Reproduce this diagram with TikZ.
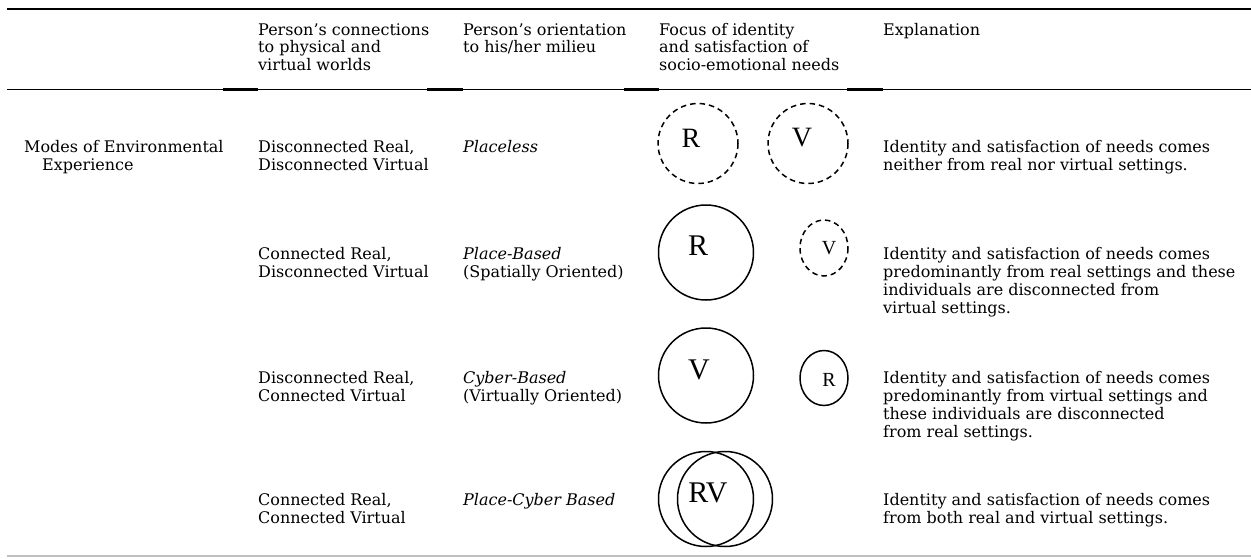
\documentclass[tikz,border=0pt]{standalone}
\usepackage{fontspec}
\setmainfont{DejaVu Serif}
\newfontfamily\letterfont{Liberation Serif}
\newcommand{\bodyfont}{\fontsize{16}{18}\selectfont}
\begin{document}
\begin{tikzpicture}[x=1pt,y=-1pt,
  txt/.style={anchor=base west, inner sep=0pt, font=\bodyfont},
  ital/.style={txt, font=\bodyfont\itshape},
  ring/.style={draw=black, line width=1.5pt},
  dashring/.style={ring, dash pattern=on 5.5pt off 4pt},
  bigletter/.style={inner sep=0pt, font=\letterfont\fontsize{30}{30}\selectfont},
  midletter/.style={inner sep=0pt, font=\letterfont\fontsize{28}{28}\selectfont},
  smallletter/.style={inner sep=0pt, font=\letterfont\fontsize{20}{20}\selectfont}]
\useasboundingbox[fill=white] (0,0) rectangle (1251,558);

% rules of the table
\draw[line width=2pt] (7,9) -- (1251,9);
\draw[line width=1.5pt] (7,89.5) -- (1251,89.5);
\foreach \a/\b in {223/258, 427/463, 624/659, 847/883}
  \draw[line width=2.6pt] (\a,89.5) -- (\b,89.5);
\draw[line width=1.2pt, black!25] (7,556) -- (1251,556);

% header
\node[txt] (h2a) at (258,35) {Person’s connections};
\node[txt] (h2b) at (258,52.5) {to physical and};
\node[txt] (h2c) at (258,70) {virtual worlds};
\node[txt] (h3a) at (463,35) {Person’s orientation};
\node[txt] (h3b) at (463,52.5) {to his/her milieu};
\node[txt] (h4a) at (659,35) {Focus of identity};
\node[txt] (h4b) at (659,52.5) {and satisfaction of};
\node[txt] (h4c) at (659,70) {socio-emotional needs};
\node[txt] (h5a) at (883,35) {Explanation};

% row 1
\node[txt] (m1) at (24,152) {Modes of Environmental};
\node[txt] (m2) at (42,170) {Experience};
\node[txt] (a1) at (258,152) {Disconnected Real,};
\node[txt] (a2) at (258,170) {Disconnected Virtual};
\node[ital] (a3) at (463,152) {Placeless};
\node[txt] (a5) at (883,152) {Identity and satisfaction of needs comes};
\node[txt] (a6) at (883,170) {neither from real nor virtual settings.};
\draw[dashring] (698,143.5) circle (40);
\draw[dashring] (808,143.5) circle (40);
\node[midletter] (aR) at (691,138) {R};
\node[midletter] (aV) at (802,138) {V};

% row 2
\node[txt] (b1) at (258,259) {Connected Real,};
\node[txt] (b2) at (258,277) {Disconnected Virtual};
\node[ital] (b3) at (463,259) {Place-Based};
\node[txt] (b4) at (463,277) {(Spatially Oriented)};
\node[txt] (b5) at (883,259) {Identity and satisfaction of needs comes};
\node[txt] (b6) at (883,277) {predominantly from real settings and these};
\node[txt] (b7) at (883,295) {individuals are disconnected from};
\node[txt] (b8) at (883,313) {virtual settings.};
\draw[ring] (706,252.5) circle (47.5);
\draw[dashring] (824,248) ellipse (24 and 28);
\node[bigletter] (bR) at (698,246) {R};
\node[smallletter] (bV) at (829,248) {V};

% row 3
\node[txt] (c1) at (258,383) {Disconnected Real,};
\node[txt] (c2) at (258,401) {Connected Virtual};
\node[ital] (c3) at (463,383) {Cyber-Based};
\node[txt] (c4) at (463,401) {(Virtually Oriented)};
\node[txt] (c5) at (883,383) {Identity and satisfaction of needs comes};
\node[txt] (c6) at (883,401) {predominantly from virtual settings and};
\node[txt] (c7) at (883,419) {these individuals are disconnected};
\node[txt] (c8) at (883,437) {from real settings.};
\draw[ring] (706,375.5) circle (47.5);
\draw[ring] (824,378) ellipse (24 and 27.5);
\node[bigletter] (cV) at (699,370) {V};
\node[smallletter] (cR) at (829,380) {R};

% row 4
\node[txt] (d1) at (258,505) {Connected Real,};
\node[txt] (d2) at (258,523) {Connected Virtual};
\node[ital] (d3) at (463,505) {Place-Cyber Based};
\node[txt] (d5) at (883,505) {Identity and satisfaction of needs comes};
\node[txt] (d6) at (883,523) {from both real and virtual settings.};
\draw[ring] (706,499) circle (47.5);
\draw[ring] (725,499) circle (47.5);
\node[bigletter] (dRV) at (708,493) {RV};
\end{tikzpicture}
\end{document}
